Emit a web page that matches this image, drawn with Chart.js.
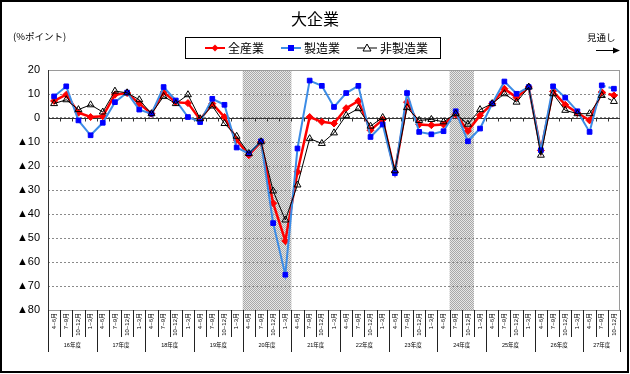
<!DOCTYPE html>
<html><head><meta charset="utf-8">
<script src="https://cdn.jsdelivr.net/npm/chart.js@4"></script>
<style>html,body{margin:0;padding:0;background:#fff}</style>
</head><body>
<canvas id="c" width="630" height="374" style="width:630px;height:374px;display:block"></canvas>
<script>
// ---- data ----
const quarterNames = ['4~6月', '7~9月', '10~12月', '1~3月'];
const yearLabels = ['16年度','17年度','18年度','19年度','20年度','21年度','22年度','23年度','24年度','25年度','26年度','27年度'];
const yearQuarterCounts = [4,4,4,4,4,4,4,4,4,4,4,3];
const categories = [];
yearQuarterCounts.forEach(n => { for (let q = 0; q < n; q++) categories.push(quarterNames[q]); });

const allIndustries = [7.1, 9.7, 2.2, 0.4, 0.7, 9.7, 10.4, 6.0, 1.8, 10.8, 6.6, 6.2,
  -0.7, 6.0, 0.4, -9.2, -15.5, -10.0, -35.5, -51.2, -22.4, 0.4, -1.6, -2.3,
  4.1, 7.1, -5.1, -0.7, -22.5, 6.6, -2.7, -3.0, -2.7, 1.5, -5.4, 1.1,
  6.0, 12.2, 8.5, 12.9, -13.5, 11.1, 5.5, 2.1, -1.0, 10.8, 9.4];
const manufacturing = [9.0, 13.2, -1.0, -7.2, -2.0, 6.6, 10.6, 3.5, 1.8, 12.9, 7.3, 0.4,
  -1.7, 8.0, 5.5, -12.3, -14.8, -9.7, -43.8, -65.3, -12.7, 15.6, 13.4, 4.6,
  10.4, 13.4, -7.9, -2.7, -23.0, 10.4, -5.8, -6.8, -5.5, 2.8, -9.7, -4.4,
  6.0, 15.2, 10.1, 12.9, -13.4, 13.2, 8.5, 2.8, -5.8, 13.6, 12.2];
const nonManufacturing = [6.0, 7.6, 3.5, 5.5, 2.5, 11.2, 10.5, 7.6, 1.8, 9.0, 6.0, 9.7,
  -0.3, 5.0, -2.3, -7.6, -14.8, -9.9, -30.4, -42.5, -27.9, -8.6, -10.6, -6.2,
  1.1, 3.9, -3.4, 0.2, -22.0, 4.3, -1.0, -0.6, -1.6, 1.8, -2.6, 3.5,
  6.0, 10.1, 6.6, 12.9, -15.5, 10.1, 3.2, 1.8, 1.8, 9.4, 6.9];
const seriesNames = ['全産業', '製造業', '非製造業'];
const shadedRanges = [[16, 19], [33, 34]];
const forecastStart = 46;
const yMin = -80, yMax = 20, yStep = 10;

const JP = '"Noto Sans CJK JP", "Liberation Sans", sans-serif';
const SM = '"Liberation Sans", "Noto Sans CJK JP", sans-serif';
const dashLast = ctx => ctx.p1DataIndex >= forecastStart ? [4, 3] : undefined;

function makePattern(ctx) {
  const c = document.createElement('canvas'); c.width = 2; c.height = 2;
  const g = c.getContext('2d');
  g.fillStyle = '#e6e6e6'; g.fillRect(0, 0, 2, 2);
  g.fillStyle = '#a8a8a8'; g.fillRect(0, 0, 1, 1); g.fillRect(1, 1, 1, 1);
  return ctx.createPattern(c, 'repeat');
}

const decor = {
  id: 'decor',
  beforeDraw(chart) {
    const {ctx, chartArea: a, scales: {x}} = chart;
    ctx.save();
    ctx.fillStyle = '#fff'; ctx.fillRect(0, 0, chart.width, chart.height);
    const half = (x.getPixelForValue(1) - x.getPixelForValue(0)) / 2;
    ctx.fillStyle = makePattern(ctx);
    shadedRanges.forEach(([s, e]) => {
      const l = x.getPixelForValue(s) - half, r = x.getPixelForValue(e) + half;
      ctx.fillRect(l, a.top, r - l, a.bottom - a.top);
    });
    ctx.restore();
  },
  beforeDatasetsDraw(chart) {
    const {ctx, chartArea: a, scales: {x, y}} = chart;
    ctx.save();
    // plot frame
    ctx.strokeStyle = '#9a9a9a'; ctx.lineWidth = 1;
    ctx.strokeRect(Math.round(a.left) + 0.5, Math.round(a.top) + 0.5, Math.round(a.right - a.left) - 1, Math.round(a.bottom - a.top));
    ctx.strokeStyle = '#333';
    ctx.beginPath(); ctx.moveTo(Math.round(a.left) + 0.5, a.top); ctx.lineTo(Math.round(a.left) + 0.5, a.bottom); ctx.stroke();
    // zero line + ticks
    const y0 = Math.round(y.getPixelForValue(0)) + 0.5;
    ctx.strokeStyle = '#333'; ctx.setLineDash([]);
    ctx.beginPath(); ctx.moveTo(a.left, y0); ctx.lineTo(a.right, y0); ctx.stroke();
    const half = (x.getPixelForValue(1) - x.getPixelForValue(0)) / 2;
    ctx.beginPath();
    for (let i = 1; i < categories.length; i++) {
      const px = Math.round(x.getPixelForValue(i) - half) + 0.5;
      ctx.moveTo(px, y0); ctx.lineTo(px, y0 + 3);
    }
    ctx.stroke();
    ctx.restore();
  },
  afterDraw(chart) {
    const {ctx, chartArea: a, scales: {x}} = chart;
    ctx.save();
    const half = (x.getPixelForValue(1) - x.getPixelForValue(0)) / 2;
    // quarter & year separators
    ctx.strokeStyle = '#222'; ctx.lineWidth = 1;
    const yearStarts = [];
    let idx = 0;
    yearQuarterCounts.forEach(n => { yearStarts.push(idx); idx += n; });
    ctx.beginPath();
    for (let i = 0; i <= categories.length; i++) {
      const px = Math.round(x.getPixelForValue(i) - half) + 0.5;
      const isYear = yearStarts.includes(i) || i === categories.length;
      ctx.moveTo(px, a.bottom); ctx.lineTo(px, isYear ? a.bottom + 42 : a.bottom + 27);
    }
    ctx.stroke();
    ctx.fillStyle = '#000'; ctx.font = '5.5px ' + SM;
    ctx.textAlign = 'center'; ctx.textBaseline = 'middle';
    yearLabels.forEach((t, k) => {
      const s = yearStarts[k], e = s + yearQuarterCounts[k] - 1;
      ctx.fillText(t, (x.getPixelForValue(s) + x.getPixelForValue(e)) / 2, a.bottom + 35.5);
    });
    // title
    ctx.font = '16px ' + JP; ctx.fillText('大企業', 315, 19);
    ctx.font = '9.5px ' + JP; ctx.textAlign = 'left';
    ctx.fillText('(%ポイント)', 13, 36);
    ctx.fillText('見通し', 587, 37);
    // arrow
    ctx.strokeStyle = '#000'; ctx.lineWidth = 1;
    ctx.beginPath(); ctx.moveTo(596, 50.5); ctx.lineTo(614, 50.5); ctx.stroke();
    ctx.beginPath(); ctx.moveTo(620, 50.5); ctx.lineTo(613, 47.5); ctx.lineTo(613, 53.5); ctx.closePath(); ctx.fill();
    // legend
    ctx.strokeStyle = '#000'; ctx.lineWidth = 1;
    ctx.strokeRect(185.5, 37.5, 255, 21);
    const ly = 48;
    const items = [
      {x: 205, color: '#ff0000', lw: 2, name: seriesNames[0], mark: 'diamond'},
      {x: 281, color: '#3c8ce6', lw: 2, name: seriesNames[1], mark: 'square'},
      {x: 357, color: '#000', lw: 1, name: seriesNames[2], mark: 'triangle'}
    ];
    ctx.font = '12px ' + JP; ctx.textBaseline = 'middle'; ctx.textAlign = 'left';
    items.forEach(it => {
      ctx.strokeStyle = it.color; ctx.lineWidth = it.lw;
      ctx.beginPath(); ctx.moveTo(it.x, ly); ctx.lineTo(it.x + 20, ly); ctx.stroke();
      const cx = it.x + 10;
      if (it.mark === 'diamond') {
        ctx.fillStyle = '#ff0000';
        ctx.beginPath(); ctx.moveTo(cx, ly - 3.5); ctx.lineTo(cx + 3.5, ly); ctx.lineTo(cx, ly + 3.5); ctx.lineTo(cx - 3.5, ly); ctx.closePath(); ctx.fill();
      } else if (it.mark === 'square') {
        ctx.fillStyle = '#0000ff'; ctx.fillRect(cx - 3, ly - 3, 6, 6);
      } else {
        ctx.fillStyle = '#fff'; ctx.strokeStyle = '#000'; ctx.lineWidth = 1;
        ctx.beginPath(); ctx.moveTo(cx, ly - 4); ctx.lineTo(cx + 4, ly + 3); ctx.lineTo(cx - 4, ly + 3); ctx.closePath(); ctx.fill(); ctx.stroke();
      }
      ctx.fillStyle = '#000';
      ctx.fillText(it.name, it.x + 23, ly + 0.5);
    });
    // outer border
    ctx.strokeStyle = '#000'; ctx.lineWidth = 2;
    ctx.strokeRect(1, 1, 627, 371);
    ctx.restore();
  }
};

new Chart(document.getElementById('c'), {
  type: 'line',
  data: {
    labels: categories,
    datasets: [
      {label: seriesNames[0], data: allIndustries, order: 3,
       borderColor: '#ff0000', borderWidth: 2.5, pointStyle: 'rectRot', pointRadius: 3.5,
       pointBackgroundColor: '#ff0000', pointBorderColor: '#ff0000', pointBorderWidth: 1,
       segment: {borderDash: dashLast}},
      {label: seriesNames[1], data: manufacturing, order: 2,
       borderColor: '#3c8ce6', borderWidth: 2, pointStyle: 'rect', pointRadius: 3.3,
       pointBackgroundColor: '#0000ff', pointBorderColor: '#0000ff', pointBorderWidth: 1,
       segment: {borderDash: dashLast}},
      {label: seriesNames[2], data: nonManufacturing, order: 1,
       borderColor: '#000', borderWidth: 1, pointStyle: 'triangle', pointRadius: 4,
       pointBackgroundColor: 'rgba(255,255,255,0)', pointBorderColor: '#000', pointBorderWidth: 1,
       segment: {borderDash: dashLast}}
    ]
  },
  options: {
    responsive: false, animation: false, devicePixelRatio: 1,
    layout: {padding: {top: 70, right: 10, left: 0, bottom: 0}},
    elements: {line: {tension: 0}},
    plugins: {legend: {display: false}, title: {display: false}, tooltip: {enabled: false}},
    scales: {
      x: {
        type: 'category', offset: true,
        grid: {display: false, drawTicks: false},
        border: {display: false},
        ticks: {autoSkip: false, minRotation: 90, maxRotation: 90, padding: 3,
                color: '#000', font: {size: 6, family: SM}},
        afterFit: s => { s.height = 64; }
      },
      y: {
        min: yMin, max: yMax,
        grid: {color: '#8a8a8a', lineWidth: 1, drawTicks: false},
        border: {display: false, dash: [2, 2]},
        ticks: {stepSize: yStep, padding: 8, color: '#000',
                font: {size: 11, family: SM},
                callback: v => v < 0 ? '▲' + (-v) : String(v)},
        afterFit: s => { s.width = 48; }
      }
    }
  },
  plugins: [decor]
});
</script>
</body></html>
